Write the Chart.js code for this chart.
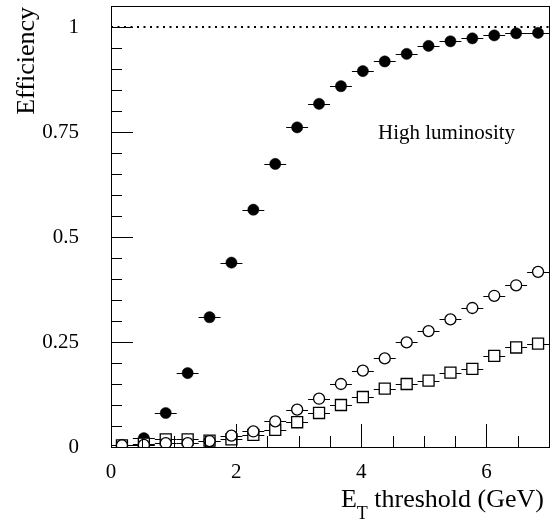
<!DOCTYPE html>
<html>
<head>
<meta charset="utf-8">
<script src="https://cdn.jsdelivr.net/npm/chart.js@4.4.1/dist/chart.umd.min.js"></script>
<style>
  html, body { margin: 0; padding: 0; background: #fff; }
  #wrap { width: 552px; height: 523px; }
</style>
</head>
<body>
<div id="wrap"><canvas id="myChart"></canvas></div>
<script>
// bin centres (GeV), bins of 0.35 GeV from 0 to 7
const etCentres = [0.175, 0.525, 0.875, 1.225, 1.575, 1.925, 2.275, 2.625, 2.975, 3.325,
                   3.675, 4.025, 4.375, 4.725, 5.075, 5.425, 5.775, 6.125, 6.475, 6.825];
const halfBin = 0.175;

// high luminosity efficiencies
const effFilled = [0.005, 0.021, 0.081, 0.176, 0.309, 0.439, 0.565, 0.674, 0.761, 0.817,
                   0.859, 0.895, 0.918, 0.936, 0.955, 0.966, 0.973, 0.980, 0.985, 0.986];
const effCircle = [0.004, 0.005, 0.009, 0.009, 0.014, 0.027, 0.037, 0.061, 0.089, 0.115,
                   0.150, 0.182, 0.211, 0.249, 0.276, 0.304, 0.331, 0.360, 0.385, 0.417];
const effSquare = [0.004, 0.008, 0.018, 0.018, 0.015, 0.018, 0.029, 0.041, 0.059, 0.081,
                   0.100, 0.119, 0.139, 0.150, 0.158, 0.177, 0.186, 0.217, 0.237, 0.246];

const xTicks = [0, 2, 4, 6];
const yTicks = [0, 0.25, 0.5, 0.75, 1];
const refLineX = [0, 7];
const refLineY = [1, 1];

function toPoints(xs, ys) {
    return xs.map((x, i) => ({ x: x, y: ys[i] }));
}

const serif = "'Liberation Serif', 'DejaVu Serif', serif";

// horizontal error bars, drawn under the markers
const errorBars = {
    id: 'errorBars',
    beforeDatasetsDraw(chart) {
        const ctx = chart.ctx;
        const xs = chart.scales.x, ys = chart.scales.y;
        ctx.save();
        ctx.strokeStyle = '#000';
        ctx.lineWidth = 1;
        chart.data.datasets.forEach((ds) => {
            if (!ds.xerr) return;
            ds.data.forEach((p) => {
                const y = Math.round(ys.getPixelForValue(p.y)) + 0.5;
                ctx.beginPath();
                ctx.moveTo(xs.getPixelForValue(p.x - ds.xerr), y);
                ctx.lineTo(xs.getPixelForValue(p.x + ds.xerr), y);
                ctx.stroke();
            });
        });
        ctx.restore();
    }
};

// frame, inward ticks and axis titles
const frame = {
    id: 'frame',
    afterDraw(chart) {
        const ctx = chart.ctx;
        const a = chart.chartArea;
        const xs = chart.scales.x, ys = chart.scales.y;
        ctx.save();
        ctx.strokeStyle = '#000';
        ctx.lineWidth = 1;
        ctx.strokeRect(Math.round(a.left) + 0.5, Math.round(a.top) + 0.5,
                       Math.round(a.right - a.left), Math.round(a.bottom - a.top));

        ctx.beginPath();
        for (let v = 0; v <= 7.0001; v += 0.5) {
            const px = Math.round(xs.getPixelForValue(v)) + 0.5;
            const len = Math.abs(v % 2) < 1e-6 ? 23 : 11;
            ctx.moveTo(px, a.bottom);
            ctx.lineTo(px, a.bottom - len);
        }
        for (let v = 0; v <= 1.05; v += 0.05) {
            const py = Math.round(ys.getPixelForValue(v)) + 0.5;
            const q = v / 0.25;
            const len = Math.abs(q - Math.round(q)) < 1e-6 ? 22 : 11;
            ctx.moveTo(a.left, py);
            ctx.lineTo(a.left + len, py);
        }
        ctx.stroke();

        ctx.fillStyle = '#000';
        // y title
        ctx.save();
        ctx.translate(34, 7);
        ctx.rotate(-Math.PI / 2);
        ctx.font = '26px ' + serif;
        ctx.textAlign = 'right';
        ctx.textBaseline = 'alphabetic';
        ctx.fillText('Efficiency', 0, 0);
        ctx.restore();

        // x title with subscript
        ctx.textBaseline = 'alphabetic';
        ctx.textAlign = 'left';
        ctx.font = '26px ' + serif;
        const rest = ' threshold (GeV)';
        const wRest = ctx.measureText(rest).width;
        const wE = ctx.measureText('E').width;
        ctx.font = '18px ' + serif;
        const wT = ctx.measureText('T').width;
        const right = 544;
        const base = 507;
        let x0 = right - wRest - wT - wE;
        ctx.font = '26px ' + serif;
        ctx.fillText('E', x0, base);
        ctx.font = '18px ' + serif;
        ctx.fillText('T', x0 + wE, base + 12);
        ctx.font = '26px ' + serif;
        ctx.fillText(rest, x0 + wE + wT, base);

        // label
        ctx.font = '21px ' + serif;
        ctx.fillText('High luminosity', 378, 139);
        ctx.restore();
    }
};

new Chart(document.getElementById('myChart'), {
    type: 'scatter',
    data: {
        datasets: [
            {
                label: 'ref',
                type: 'line',
                data: toPoints(refLineX, refLineY),
                borderColor: '#000',
                borderWidth: 2,
                borderDash: [2, 4.5],
                pointRadius: 0,
                fill: false,
                clip: false
            },
            {
                label: 'open circles',
                data: toPoints(etCentres, effCircle),
                xerr: halfBin,
                pointStyle: 'circle',
                pointRadius: 5.5,
                borderWidth: 1.3,
                borderColor: '#000',
                backgroundColor: '#fff'
            },
            {
                label: 'open squares',
                data: toPoints(etCentres, effSquare),
                xerr: halfBin,
                pointStyle: 'rect',
                pointRadius: 7.8,
                borderWidth: 1.3,
                borderColor: '#000',
                backgroundColor: '#fff'
            },
            {
                label: 'filled circles',
                data: toPoints(etCentres, effFilled),
                xerr: halfBin,
                pointStyle: 'circle',
                pointRadius: 5.6,
                borderWidth: 0.5,
                borderColor: '#000',
                backgroundColor: '#000'
            }
        ]
    },
    options: {
        responsive: true,
        maintainAspectRatio: false,
        animation: false,
        events: [],
        layout: { autoPadding: false, padding: { top: 6, right: 3, left: 0, bottom: 0 } },
        plugins: {
            legend: { display: false },
            tooltip: { enabled: false }
        },
        scales: {
            x: {
                type: 'linear',
                min: 0,
                max: 7,
                afterFit(scale) {
                    scale.height = 76;
                    scale.paddingLeft = 0;
                    scale.paddingRight = 0;
                },
                afterBuildTicks(scale) { scale.ticks = xTicks.map(v => ({ value: v })); },
                grid: { display: false, drawTicks: false },
                border: { display: false },
                ticks: {
                    color: '#000',
                    font: { family: serif, size: 21 },
                    padding: 13,
                    maxRotation: 0,
                    autoSkip: false,
                    callback: (v) => String(v)
                }
            },
            y: {
                type: 'linear',
                min: 0,
                max: 1.05,
                afterFit(scale) {
                    scale.width = 111;
                    scale.paddingTop = 0;
                    scale.paddingBottom = 0;
                },
                afterBuildTicks(scale) { scale.ticks = yTicks.map(v => ({ value: v })); },
                grid: { display: false, drawTicks: false },
                border: { display: false },
                ticks: {
                    color: '#000',
                    font: { family: serif, size: 21 },
                    padding: 32,
                    autoSkip: false,
                    callback: (v) => String(v)
                }
            }
        }
    },
    plugins: [errorBars, frame]
});
</script>
</body>
</html>
